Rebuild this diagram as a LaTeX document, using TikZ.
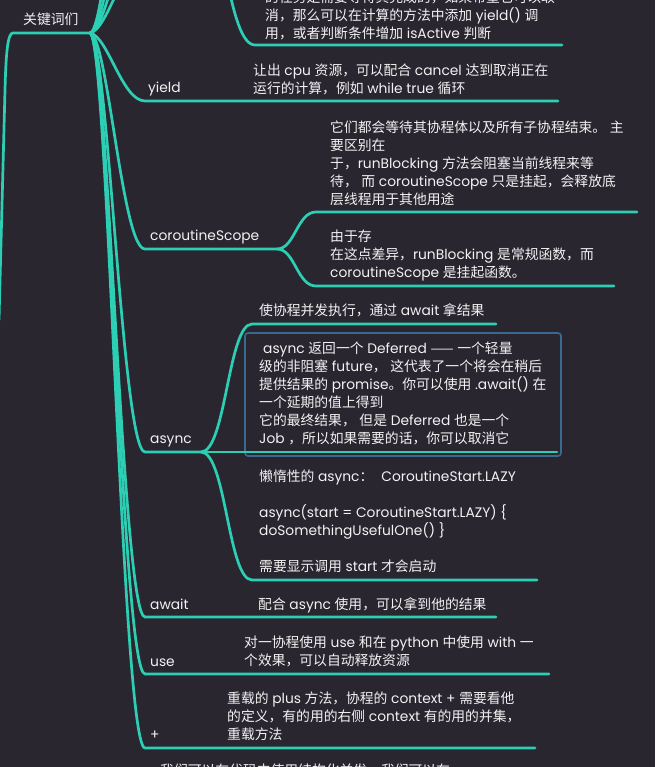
\documentclass[tikz,border=0pt]{standalone}
\usepackage{fontspec}
\usepackage{xcolor}
\usepackage{tikz}
\setmainfont{Poppins}
\newfontfamily\zhfont{Noto Sans CJK SC}
\newfontfamily\enfont{Poppins}
% switch to the CJK font for Chinese characters
\newXeTeXintercharclass\zhclass
\newcount\zhcnt
\def\zhrange#1#2{\zhcnt=#1\relax
  \loop\XeTeXcharclass\zhcnt=\zhclass
  \ifnum\zhcnt<#2\relax\advance\zhcnt by 1\repeat}
\zhrange{"2014}{"2014}
\zhrange{"3000}{"303F}
\zhrange{"4E00}{"9FFF}
\zhrange{"FF00}{"FFEF}
\XeTeXinterchartokenstate=1
\XeTeXinterchartoks 0 \zhclass = {\zhfont}
\XeTeXinterchartoks 4095 \zhclass = {\zhfont}
\XeTeXinterchartoks \zhclass 0 = {\enfont}
\XeTeXinterchartoks \zhclass 4095 = {\enfont}

\definecolor{mbg}{HTML}{2A2630}
\definecolor{mteal}{HTML}{2CCFB3}
\definecolor{mwhite}{HTML}{F2F2F2}
\definecolor{mblue}{HTML}{3A6A92}
\newcommand{\mfont}{\fontsize{13.8}{18}\selectfont}
\newcommand{\mstrut}{\rule{0pt}{12pt}}
\tikzset{
  mline/.style={mteal, line width=2.7pt, line cap=round},
  mlbl/.style={anchor=base west, inner sep=0pt, text=mwhite, font=\mfont},
  mtxt/.style={anchor=north west, inner sep=0pt, text=mwhite, font=\mfont,
               align=left},
  mframe/.style={draw=mblue, line width=1.6pt, rounded corners=3pt},
}

\begin{document}
\begin{tikzpicture}[x=1pt,y=-1pt]
  \useasboundingbox (0,0) rectangle (655,767);
  \fill[mbg] (0,0) rectangle (655,767);
  \clip (0,0) rectangle (655,767);

  % root
  \node[mlbl] (root-lbl) at (23,25) {关键词们};
  \coordinate (root) at (90,33);
  \draw[mline] (root) -- (13,33) .. controls (8,33) and (6,50) .. (5,90) -- (-1,320);

  % branches above the top edge
  \foreach \yy in {-40,-150,-260}
    \draw[mline] (root) .. controls (108,30) and (122,\yy) .. (145,\yy);
  \draw[mline] (root) .. controls (108,30) and (122,-85) .. (145,-85)
    -- (200,-85) coordinate (upper-end);
  \draw[mline] (upper-end) .. controls (225,-85) and (228,45) .. (255,45) -- (562,45);
  \node[mtxt] (cancel-txt) at (265,-10)
    {\mstrut 的任务是需要等待其完成的，如果希望它可以取\\
     消，那么可以在计算的方法中添加 yield() 调\\
     用，或者判断条件增加 isActive 判断};

  % keywords
  \foreach \nm/\yy/\xe in {yield/101/558, scope/249/277, async/452/201,
                           await/617/496, use/674/549, plus/748/535}
    \draw[mline] (root) .. controls (108,36) and (122,\yy) .. (145,\yy)
      coordinate (\nm) -- (\xe,\yy) coordinate (\nm-end);

  \node[mlbl] (yield-lbl) at (148,93)  {yield};
  \node[mlbl] (scope-lbl) at (150,240) {coroutineScope};
  \node[mlbl] (async-lbl) at (150,443) {async};
  \node[mlbl] (await-lbl) at (150,609) {await};
  \node[mlbl] (use-lbl)   at (150,666) {use};
  \node[mlbl] (plus-lbl)  at (150,739) {+};

  % yield
  \node[mtxt] (yield-txt) at (253,63)
    {\mstrut 让出 cpu 资源，可以配合 cancel 达到取消正在\\
     运行的计算，例如 while true 循环};

  % coroutineScope
  \draw[mline] (scope-end) .. controls (295,249) and (297,212) .. (316,212) -- (637,212);
  \draw[mline] (scope-end) .. controls (295,249) and (297,286) .. (316,286) -- (614,286);
  \node[mtxt] (scope-txt1) at (330,120)
    {\mstrut 它们都会等待其协程体以及所有子协程结束。 主\\
     要区别在\\
     于，runBlocking 方法会阻塞当前线程来等\\
     待， 而 coroutineScope 只是挂起，会释放底\\
     层线程用于其他用途};
  \node[mtxt] (scope-txt2) at (330,229)
    {\mstrut 由于存\\
     在这点差异，runBlocking 是常规函数，而\\
     coroutineScope 是挂起函数。};

  % async
  \draw[mframe] (245,333) rectangle (561,456);
  \draw[mline] (async-end) .. controls (226,452) and (228,324) .. (252,324) -- (496,324);
  \draw[mline] (async-end) -- (557,452);
  \draw[mline] (async-end) .. controls (226,452) and (228,580) .. (252,580) -- (537,580);
  \node[mtxt] (async-txt1) at (259,303)
    {\mstrut 使协程并发执行，通过 await 拿结果};
  \node[mtxt] (async-txt2) at (259,341)
    {\mstrut\hspace{4pt}async 返回一个 Deferred —— 一个轻量\\
     级的非阻塞 future， 这代表了一个将会在稍后\\
     提供结果的 promise。你可以使用 .await() 在\\
     一个延期的值上得到\\
     它的最终结果， 但是 Deferred 也是一个\\
     Job ，所以如果需要的话，你可以取消它};
  \node[mtxt] (async-txt3) at (259,469)
    {\mstrut 懒惰性的 async：\hspace{8pt}CoroutineStart.LAZY\\[18pt]
     async(start = CoroutineStart.LAZY) \{\\
     doSomethingUsefulOne() \}\\[18pt]
     需要显示调用 start 才会启动};

  % await, use, +
  \node[mtxt] (await-txt) at (258,597)
    {\mstrut 配合 async 使用，可以拿到他的结果};
  \node[mtxt] (use-txt) at (244,635)
    {\mstrut 对一协程使用 use 和在 python 中使用 with 一\\
     个效果，可以自动释放资源};
  \node[mtxt] (plus-txt) at (227,691)
    {\mstrut 重载的 plus 方法，协程的 context + 需要看他\\
     的定义，有的用的右侧 context 有的用的并集，\\
     重载方法};

  % cut off at the bottom edge
  \node[mtxt] (bottom-txt) at (160,763)
    {\mstrut 我们可以在代码中使用结构化并发，我们可以在};
\end{tikzpicture}
\end{document}
